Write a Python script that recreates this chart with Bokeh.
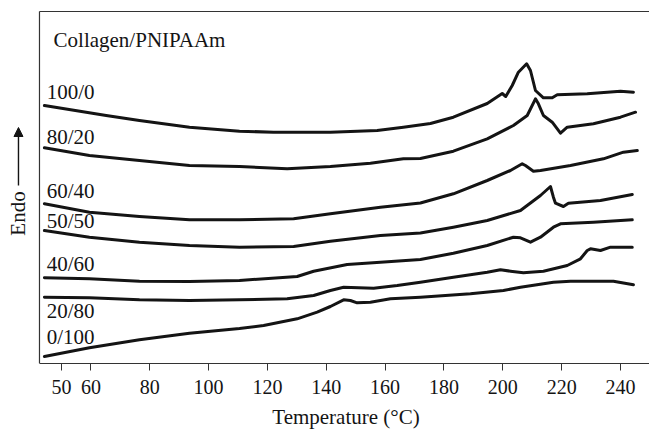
import math
from bokeh.plotting import figure
from bokeh.models import FixedTicker, Arrow, NormalHead, Range1d
from bokeh.core.properties import value
from bokeh.embed import file_html
from bokeh.resources import INLINE

# ---- data (temperature in °C, heat flow in arbitrary units, curves offset) ----
series_names = ["100/0", "80/20", "60/40", "50/50", "40/60", "20/80", "0/100"]
legend_title = "Collagen/PNIPAAm"
y_title = "Endo"
x_title = "Temperature (°C)"
x_ticks = [50, 60, 80, 100, 120, 140, 160, 180, 200, 220, 240]

t_100_0 = [44.2, 65.2, 76.5, 93.5, 110.5, 122.1, 141.4, 157.3, 166.2, 175.4, 183.2, 194.7, 199.8, 201.0,
           202.0, 203.2, 205.3, 208.1, 209.4, 211.1, 213.8, 216.8, 218.5, 228.7, 240.0, 244.4]
v_100_0 = [258, 248, 243, 236.3, 232.3, 231.3, 231.3, 233, 236.3, 240, 246.3, 260, 270, 267,
           272, 278, 291.3, 299.7, 293, 273, 265.7, 265.7, 268.7, 269.7, 272.3, 271.3]

t_80_20 = [44.2, 59.5, 76.5, 93.5, 110.5, 126.7, 141.4, 155.0, 166.2, 172.0, 183.2, 194.7, 203.6, 208.3,
           211.1, 212.1, 213.8, 216.8, 219.6, 221.9, 230.8, 240.0, 245.1]
v_80_20 = [215.7, 208, 203, 198, 197, 194.7, 197, 200.3, 204.7, 205, 212.3, 224.7, 238, 248,
           264.7, 259.7, 248, 241.3, 230.3, 236.3, 239.7, 246.3, 251.3]

t_60_40 = [44.2, 59.5, 76.5, 93.5, 110.5, 128.9, 141.4, 158.4, 172.0, 183.2, 194.7, 202.6, 206.6, 207.7,
           210.4, 212.8, 223.0, 234.2, 241.0, 245.7]
v_60_40 = [159.7, 151.3, 147, 143.7, 143.7, 144.7, 149.7, 156.3, 160.5, 169.7, 183, 193, 199.7, 198,
           192.3, 193, 198, 204.7, 211.3, 213]

t_50_50 = [44.2, 59.5, 76.5, 93.5, 110.5, 128.9, 141.4, 158.4, 172.0, 183.2, 194.7, 206.0, 212.8, 216.2,
           217.2, 217.9, 220.6, 222.3, 233.2, 244.0]
v_50_50 = [133, 126.3, 121.3, 118, 116.3, 117, 122.3, 128, 130.5, 136.3, 143, 153, 168, 177,
           166.3, 160.3, 157, 160.3, 163, 169]

t_40_60 = [44.2, 59.5, 76.5, 93.5, 110.5, 130.1, 135.7, 147.1, 158.4, 172.0, 183.2, 194.7, 203.6, 206.0,
           209.4, 212.8, 217.2, 219.6, 230.8, 244.0]
v_40_60 = [85.7, 84.7, 82.3, 82, 83, 87, 92.3, 99, 101.3, 104, 110.3, 118, 126.3, 125.7,
           121.3, 126.3, 136.3, 139.7, 141.3, 143.7]

t_20_80 = [44.2, 59.5, 76.5, 93.5, 110.5, 126.7, 135.7, 141.4, 145.9, 156.1, 164.1, 172.0, 183.2, 194.7,
           199.2, 202.6, 207.0, 213.8, 221.9, 226.4, 228.7, 229.8, 233.2, 236.6, 244.0]
v_20_80 = [66.3, 65.7, 63.7, 63, 63.7, 64.7, 68, 73, 76.3, 75.3, 78, 81.3, 86.3, 91.3,
           93.7, 92.3, 90.7, 92.3, 98, 104.7, 113, 114.7, 113, 116.3, 116.3]

t_0_100 = [44.2, 59.5, 76.5, 93.5, 110.5, 118.7, 130.1, 136.9, 141.4, 145.9, 148.2, 150.5, 155.0, 161.8,
           172.0, 189.0, 200.2, 206.0, 217.2, 223.0, 237.6, 244.4]
v_0_100 = [7, 15.7, 23.7, 30.3, 35, 38, 44.7, 51.3, 57, 63.7, 63, 60.7, 61.3, 64.7,
           66.3, 69.7, 73, 76.3, 81.3, 82.3, 82.3, 78.7]

curves = [(t_100_0, v_100_0), (t_80_20, v_80_20), (t_60_40, v_60_40), (t_50_50, v_50_50),
          (t_40_60, v_40_60), (t_20_80, v_20_80), (t_0_100, v_0_100)]

# ---- figure ----
FONT = "Liberation Serif"
INK = "#141414"
FRAME = "#333333"

X0, X1 = 42.52, 249.86      # plotted temperature window (box edges)
Y_TOP = 352                 # top of the box in signal units

p = figure(width=649, height=432, output_backend="svg", toolbar_location=None,
           x_range=Range1d(29.27, X1), y_range=Range1d(0, 363),
           y_axis_location=None,
           min_border_left=0, min_border_right=0, min_border_top=0, min_border_bottom=69)
p.outline_line_color = None
p.grid.visible = False

# box lines (left and top); bottom is the x axis
p.segment(x0=[X0, X0], y0=[0, Y_TOP], x1=[X0, X1], y1=[Y_TOP, Y_TOP],
          line_color=FRAME, line_width=1.2)

for (t, v) in curves:
    p.line(t, v, line_color=INK, line_width=3.0, line_join="round", line_cap="round")

# series labels (placed at the left, above each curve)
label_x = [45.0] * len(series_names)
label_y = [271.3, 226.3, 173, 142.3, 99.7, 53, 26.3]
p.text(x=label_x, y=label_y, text=series_names, text_font=value(FONT), text_font_size="21px",
       text_baseline="middle", text_align="left", text_color=INK)
p.text(x=[47.3], y=[324], text=[legend_title], text_font=value(FONT), text_font_size="21px",
       text_baseline="middle", text_align="left", text_color=INK)

# y title "Endo" with upward arrow, left of the box
p.text(x=[35.38], y=[150], text=[y_title], angle=math.pi / 2, text_font=value(FONT),
       text_font_size="21px", text_baseline="middle", text_align="center", text_color=INK)
p.add_layout(Arrow(end=NormalHead(size=9, fill_color=INK, line_color=INK, line_width=1),
                   x_start=35.38, y_start=178, x_end=35.38, y_end=236,
                   line_color=INK, line_width=1.4))

# x axis (label nudged to be centred under the box rather than the whole canvas)
xa = p.xaxis[0]
xa.bounds = (X0, X1)
xa.ticker = FixedTicker(ticks=x_ticks)
xa.axis_label = "\u00a0" * 8 + x_title
xa.axis_label_text_font = FONT
xa.axis_label_text_font_style = "normal"
xa.axis_label_text_font_size = "21px"
xa.axis_label_text_color = INK
xa.axis_label_standoff = 8
xa.major_label_text_font = FONT
xa.major_label_text_font_size = "20px"
xa.major_label_text_color = INK
xa.major_label_standoff = 9
xa.major_tick_out = 7
xa.major_tick_in = 0
xa.minor_tick_line_color = None
xa.axis_line_color = FRAME
xa.major_tick_line_color = FRAME

open("out.html", "w").write(file_html(p, INLINE))
